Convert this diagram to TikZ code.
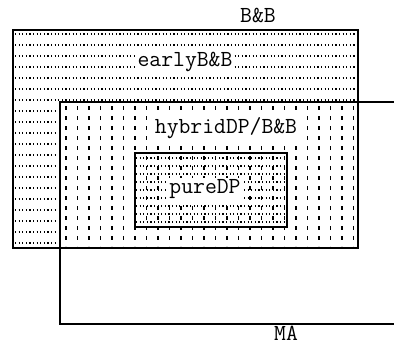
\documentclass[tikz,border=0pt]{standalone}
\usepackage{fontspec}
\usetikzlibrary{positioning}

\begin{document}
\begin{tikzpicture}[x=0.5pt, y=-0.5pt,
	frame/.style={draw, line width=1pt},
	lbl/.style={fill=white, inner sep=0.8pt, font=\ttfamily\addfontfeatures{FakeStretch=1.15}\fontsize{11.5}{12}\selectfont},
	dotrow/.style={line width=0.7pt, dash pattern=on 0.6pt off 1.2pt},
	tickcol/.style={line width=0.6pt, dash pattern=on 2pt off 3pt}]
			\useasboundingbox (0,0) rectangle (394,343);
			\coordinate (bbNW) at (13,30);
			\coordinate (bbSE) at (358,248);
			\coordinate (maNE) at (394,102);
			\coordinate (maNW) at (60,102);
			\coordinate (maSW) at (60,324);
			\coordinate (maSE) at (394,324);
			\coordinate (dpNW) at (135,153);
			\coordinate (dpSE) at (287,227);
			
			\foreach \y in {34,45,...,100} \draw[dotrow] (15,\y) -- (356,\y);
			\foreach \y in {111,122,...,244} \draw[dotrow] (15,\y) -- (58,\y);
			\foreach \x in {66,77.5,...,356} \draw[tickcol] (\x,106) -- (\x,246);
			
			\fill[white] (dpNW) rectangle (dpSE);
			\begin{scope}
				\clip (dpNW) rectangle (dpSE);
				\foreach \y in {158,166,...,224} \draw[dotrow] (136,\y) -- (286,\y);
				\foreach \x in {66,77.5,...,356} \draw[tickcol] (\x,156) -- (\x,226);
			\end{scope}
			
			\draw[frame] (bbNW) rectangle (bbSE);
			\draw[frame] (maNE) -- (maNW) -- (maSW) -- (maSE);
			\draw[frame, line width=1.2pt] (dpNW) rectangle (dpSE);
			
			\node[lbl, fill=none] (bb) at (258,15) {B\&B};
			\node[lbl] (early) at (185,62) {earlyB\&B};
			\node[lbl] (hybrid) at (226,128) {hybridDP/B\&B};
			\node[lbl] (pure) at (205,189) {pureDP};
			\node[lbl, fill=none] (ma) at (286,333) {MA};
		\end{tikzpicture}
\end{document}
